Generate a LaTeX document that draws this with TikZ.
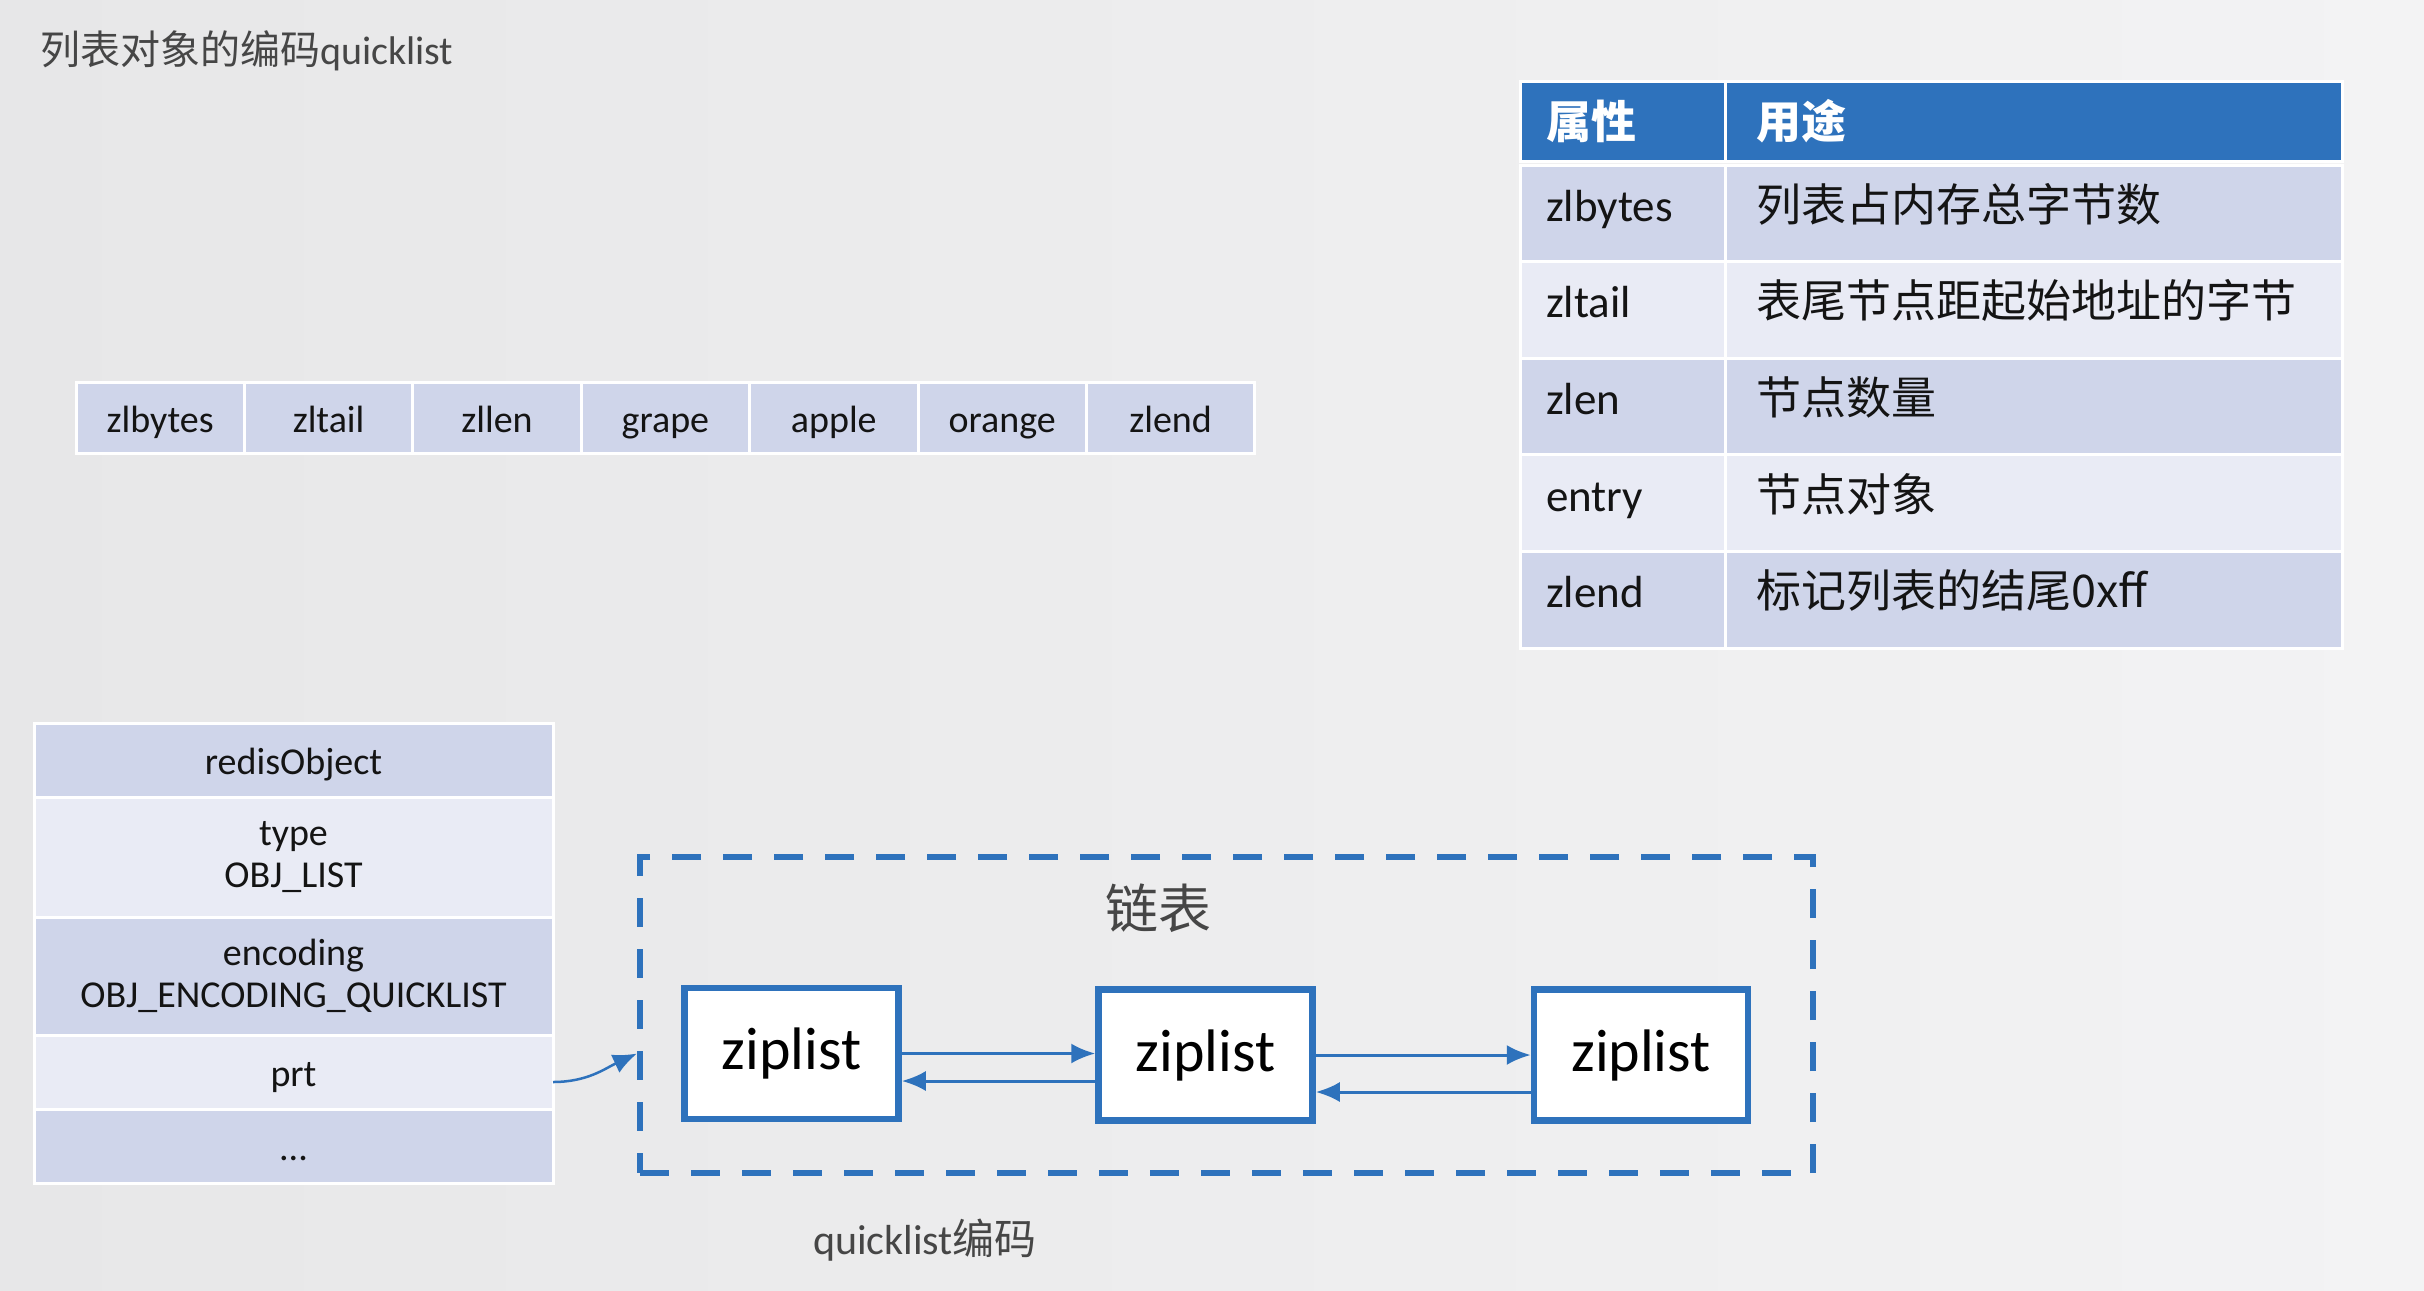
\documentclass[tikz,border=0pt]{standalone}
\usepackage{fontspec}
\setmainfont{Carlito}
\newfontfamily\cjk{Noto Sans CJK SC}
\usetikzlibrary{
    positioning,
    arrows.meta,
    calc
}
\definecolor{qblue}{RGB}{46,114,188}
\definecolor{celldark}{RGB}{207,213,234}
\definecolor{celllight}{RGB}{233,235,245}
\definecolor{bgleft}{RGB}{231,231,232}
\definecolor{bgright}{RGB}{243,243,244}
\definecolor{txtgray}{RGB}{70,70,70}
\definecolor{txtdark}{RGB}{20,20,20}
\tikzset{
    zlcell/.style={draw=white, line width=1.5pt, fill=celldark, outer sep=0pt, inner sep=0pt,
        minimum width=84.2pt, minimum height=35.5pt, text=txtdark, text height=14.5pt, text depth=0pt,
        font=\fontsize{19}{21}\selectfont},
    robox/.style={zlcell, minimum width=259.5pt, minimum height=37pt, align=center},
    twoline/.style={text height=, text depth=},
    keycell/.style={draw=white, line width=1.5pt, fill=celldark, outer sep=0pt, inner xsep=13pt, inner ysep=0pt,
        text width=76.5pt, align=left, minimum height=48.3pt, text height=16pt, text depth=8pt,
        text=txtdark, font=\fontsize{22.5}{26}\selectfont},
    valcell/.style={keycell, inner xsep=15.5pt, text width=277.5pt, font=\cjk\fontsize{22.5}{26}\selectfont},
    headcell/.style={fill=qblue, text=white, minimum height=40pt, text height=20pt, text depth=3pt,
        font=\cjk\bfseries\fontsize{22.5}{26}\selectfont},
    zipbox/.style={draw=qblue, line width=3.25pt, fill=white, minimum width=107pt, minimum height=65.5pt,
        inner sep=0pt, text=black, font=\fontsize{30}{36}\selectfont},
    dashbox/.style={draw=qblue, line width=3pt, dash pattern=on 14.5pt off 11pt,
        minimum width=586.5pt, minimum height=158pt, inner sep=0pt},
    link/.style={draw=qblue, line width=1.5pt, -{Latex[length=12pt,width=10pt]}}
}
\begin{document}
\begin{tikzpicture}[x=0.5pt, y=-0.5pt]
    \useasboundingbox (0,0) rectangle (2424,1290);
    \shade[left color=bgleft, right color=bgright] (0,0) rectangle (2424,1290);

    % title
    \node[anchor=west, text=txtgray, font=\fontsize{20}{24}\selectfont] (title) at (33,51) {{\cjk 列表对象的编码}quicklist};

    % ziplist layout
    \foreach \name [count=\i] in {zlbytes, zltail, zllen, grape, apple, orange, zlend}
        \node[zlcell] (e\i) at ({76+168.4*(\i-0.5)}, 417.5) {\name};

    % field table
    \node[keycell, headcell] (kh) at (1622.5,121) {属性};
    \node[valcell, headcell] (vh) at (2033.5,121) {用途};
    \foreach \key/\val/\tone [count=\i] in {zlbytes/列表占内存总字节数/celldark,
            zltail/表尾节点距起始地址的字节/celllight, zlen/节点数量/celldark,
            entry/节点对象/celllight, zlend/标记列表的结尾0xff/celldark}{
        \node[keycell, fill=\tone] (k\i) at (1622.5, {165+96.6*(\i-0.5)}) {\key};
        \node[valcell, fill=\tone] (v\i) at (2033.5, {165+96.6*(\i-0.5)}) {\val};
    }

    % redisObject
    \node[robox] (ro) at (293.5,760) {redisObject};
    \node[robox, twoline, fill=celllight, minimum height=60pt, below=0pt of ro] (rtype) {type\\OBJ\_LIST};
    \node[robox, twoline, minimum height=59pt, below=0pt of rtype] (renc) {encoding\\OBJ\_ENCODING\_QUICKLIST};
    \node[robox, fill=celllight, below=0pt of renc] (rprt) {prt};
    \node[robox, below=0pt of rprt] (rmore) {...};

    % quicklist
    \node[dashbox] (lk) at (1226.5,1015) {};
    \node[text=txtgray, font=\cjk\fontsize{26.5}{30}\selectfont] (lkname) at (1158,908) {链表};
    \node[zipbox] (z1) at (791.5,1053.5) {ziplist};
    \node[zipbox] (z2) at (1205.5,1055) {ziplist};
    \node[zipbox] (z3) at (1641,1055) {ziplist};

    \draw[link] (z1.east) -- (z1.east -| z2.west);
    \draw[link] ([yshift=-13pt]z2.west) -- ([yshift=-13pt]z2.west -| z1.east);
    \draw[link] (z2.east) -- (z2.east -| z3.west);
    \draw[link] ([yshift=-18.5pt]z3.west) -- ([yshift=-18.5pt]z3.west -| z2.east);
    \draw[link, line width=1.25pt] ([yshift=-5pt]rprt.east) to[out=0,in=205] (lk.west |- z1);

    \node[text=txtgray, font=\fontsize{21}{25}\selectfont] (cap) at (925,1240) {quicklist{\cjk 编码}};
\end{tikzpicture}
\end{document}
